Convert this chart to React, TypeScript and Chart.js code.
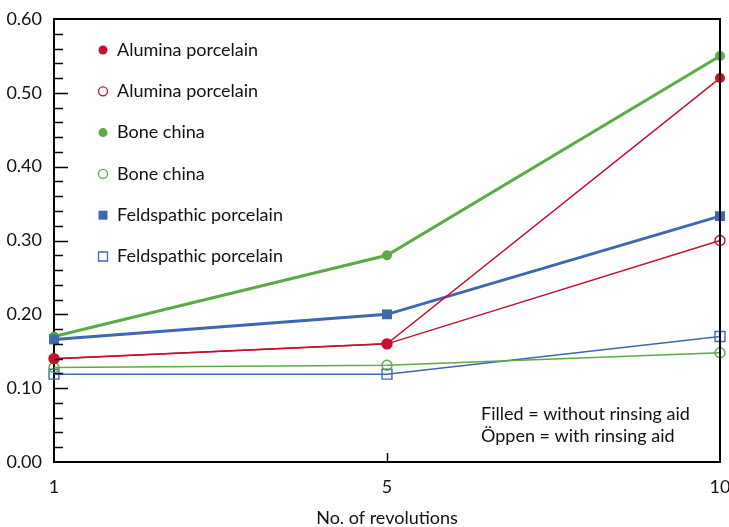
import React, { useEffect, useRef } from "react";
import { Chart, registerables } from "chart.js";

Chart.register(...registerables);

const categories = ["1", "5", "10"];
const aluminaFilled = [0.14, 0.16, 0.52];
const aluminaOpen = [0.14, 0.16, 0.3];
const boneFilled = [0.17, 0.28, 0.55];
const boneOpen = [0.128, 0.131, 0.148];
const feldFilled = [0.166, 0.2, 0.333];
const feldOpen = [0.119, 0.119, 0.17];
const seriesLabels = [
  "Alumina porcelain",
  "Alumina porcelain",
  "Bone china",
  "Bone china",
  "Feldspathic porcelain",
  "Feldspathic porcelain",
];
const noteLines = ["Filled = without rinsing aid", "Öppen = with rinsing aid"];
const xTitle = "No. of revolutions";

const RED = "#c8102e";
const GREEN = "#5aab46";
const BLUE = "#3c68b0";
const FONT = "Lato, 'Open Sans', sans-serif";

const decorPlugin = {
  id: "decor",
  afterDatasetsDraw(chart: any) {
    const { ctx, chartArea } = chart;
    const xs = chart.scales.x;
    const ys = chart.scales.y;
    ctx.save();
    // frame top & right
    ctx.strokeStyle = "#000";
    ctx.lineWidth = 2;
    ctx.beginPath();
    ctx.moveTo(chartArea.left, chartArea.top);
    ctx.lineTo(chartArea.right, chartArea.top);
    ctx.lineTo(chartArea.right, chartArea.bottom);
    ctx.stroke();
    // inward y ticks
    ctx.lineWidth = 1.5;
    const steps = Math.round((ys.max - ys.min) / 0.02);
    for (let i = 1; i < steps; i++) {
      const v = ys.min + i * 0.02;
      const major = i % 5 === 0;
      const py = Math.round(ys.getPixelForValue(v)) + 0.5;
      ctx.beginPath();
      ctx.moveTo(chartArea.left, py);
      ctx.lineTo(chartArea.left + (major ? 14 : 9), py);
      ctx.stroke();
    }
    // inward x ticks (inner categories)
    for (let i = 1; i < categories.length - 1; i++) {
      const px = Math.round(xs.getPixelForValue(i)) + 0.5;
      ctx.beginPath();
      ctx.moveTo(px, chartArea.bottom);
      ctx.lineTo(px, chartArea.bottom - 9);
      ctx.stroke();
    }
    // legend
    ctx.font = `18px ${FONT}`;
    ctx.textBaseline = "middle";
    ctx.textAlign = "left";
    chart.data.datasets.forEach((ds: any, i: number) => {
      const cy = 50 + i * 41.3;
      const cx = 103;
      ctx.beginPath();
      if (ds.pointStyle === "rect") {
        ctx.rect(cx - 4.5, cy - 4.5, 9, 9);
      } else {
        ctx.arc(cx, cy, 4.5, 0, Math.PI * 2);
      }
      if (ds.filled) {
        ctx.fillStyle = ds.borderColor;
        ctx.fill();
      } else {
        ctx.lineWidth = 1.3;
        ctx.strokeStyle = ds.borderColor;
        ctx.stroke();
      }
      ctx.fillStyle = "#111";
      ctx.fillText(ds.label, 117, cy);
    });
    // note
    ctx.fillStyle = "#111";
    noteLines.forEach((t, i) => {
      ctx.fillText(t, 481, 414 + i * 22);
    });
    ctx.restore();
  },
};

export default function App() {
  const ref = useRef<HTMLCanvasElement>(null);
  useEffect(() => {
    if (!ref.current) return;
    const mk = (
      label: string,
      data: number[],
      color: string,
      filled: boolean,
      style: string,
      width: number,
      order: number,
      radius: number
    ) => ({
      label,
      data,
      borderColor: color,
      backgroundColor: filled ? color : "rgba(255,255,255,0)",
      pointBackgroundColor: filled ? color : "rgba(255,255,255,0)",
      pointBorderColor: color,
      pointBorderWidth: filled ? 0 : 1.4,
      pointStyle: style,
      pointRadius: radius,
      borderWidth: width,
      fill: false,
      tension: 0,
      order,
      clip: false,
      filled,
    });
    const chart = new Chart(ref.current, {
      type: "line",
      data: {
        labels: categories,
        datasets: [
          mk(seriesLabels[0], aluminaFilled, RED, true, "circle", 1.5, 1, 5),
          mk(seriesLabels[1], aluminaOpen, RED, false, "circle", 1.5, 4, 5),
          mk(seriesLabels[2], boneFilled, GREEN, true, "circle", 3, 3, 5),
          mk(seriesLabels[3], boneOpen, GREEN, false, "circle", 1.5, 5, 5),
          mk(seriesLabels[4], feldFilled, BLUE, true, "rect", 3, 2, 7),
          mk(seriesLabels[5], feldOpen, BLUE, false, "rect", 1.5, 6, 7),
        ] as any,
      },
      options: {
        responsive: false,
        animation: false,
        devicePixelRatio: 1,
        layout: { padding: { top: 19, right: 9, left: 0, bottom: 0 } },
        plugins: {
          legend: { display: false },
          tooltip: { enabled: false },
        },
        scales: {
          x: {
            type: "category",
            offset: false,
            grid: { display: false, drawTicks: false },
            border: { display: true, color: "#000", width: 2 },
            ticks: {
              padding: 14,
              color: "#111",
              font: { family: FONT, size: 18 },
              maxRotation: 0,
              autoSkip: false,
            },
            title: {
              display: true,
              text: xTitle,
              color: "#111",
              font: { family: FONT, size: 18, lineHeight: 1.2 },
              padding: { top: 0, bottom: -2 },
            },
            afterFit: (s: any) => {
              s.height = 65;
              s.paddingLeft = 0;
              s.paddingRight = 0;
            },
          },
          y: {
            min: 0,
            max: 0.6,
            grid: { display: false, drawTicks: false },
            border: { display: true, color: "#000", width: 2 },
            ticks: {
              stepSize: 0.1,
              padding: 12,
              color: "#111",
              font: { family: FONT, size: 18 },
              callback: (v: any) => Number(v).toFixed(2),
            },
            afterFit: (s: any) => {
              s.width = 54;
              s.paddingTop = 0;
              s.paddingBottom = 0;
            },
          },
        },
      },
      plugins: [decorPlugin],
    });
    return () => chart.destroy();
  }, []);
  return (
    <div style={{ position: "fixed", left: 0, top: 0, width: 729, height: 527, background: "#fff" }}>
      <canvas ref={ref} width={729} height={527} style={{ width: 729, height: 527, display: "block" }} />
    </div>
  );
}
